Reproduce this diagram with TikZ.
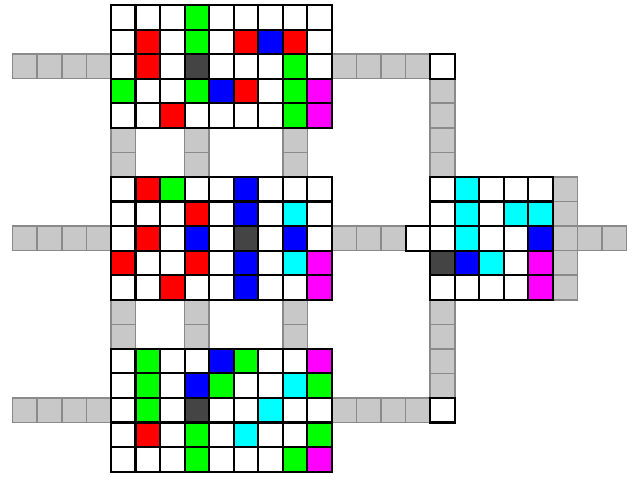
\documentclass[tikz,border=0pt]{standalone}
\definecolor{cW}{HTML}{FFFFFF}
\definecolor{cR}{HTML}{FF0000}
\definecolor{cG}{HTML}{00FF00}
\definecolor{cB}{HTML}{0000FF}
\definecolor{cC}{HTML}{00FFFF}
\definecolor{cM}{HTML}{FF00FF}
\definecolor{cD}{HTML}{444444}
\definecolor{wirefill}{HTML}{C8C8C8}
\definecolor{wireedge}{HTML}{8A8A8A}
\begin{document}
\begin{tikzpicture}[x=1cm, y=-1cm,
        cell/.style={draw=black, line width=2.4pt},
        wirecell/.style={fill=wirefill, draw=wireedge, line width=1.8pt}]
        \useasboundingbox (-0.517,-0.204) rectangle (25.379,19.34);

        % Dây nối (ô xám)
        \foreach \ry in {2,9,16}
            \foreach \cx in {0,...,3}
                \draw[wirecell] (\cx,\ry) rectangle ++(1,1);
        \foreach \cx in {13,...,16} {
            \draw[wirecell] (\cx,2) rectangle ++(1,1);
            \draw[wirecell] (\cx,16) rectangle ++(1,1);
        }
        \foreach \cx in {13,14,15}
            \draw[wirecell] (\cx,9) rectangle ++(1,1);
        \foreach \ry in {3,...,6,12,13,14,15}
            \draw[wirecell] (17,\ry) rectangle ++(1,1);
        \foreach \cx in {4,7,11}
            \foreach \ry in {5,6,12,13}
                \draw[wirecell] (\cx,\ry) rectangle ++(1,1);
        \foreach \ry in {7,...,11}
            \draw[wirecell] (22,\ry) rectangle ++(1,1);
        \draw[wirecell] (23,9) rectangle ++(1,1);
        \draw[wirecell] (24,9) rectangle ++(1,1);

        % Ô trắng ở chỗ rẽ
        \draw[cell, fill=white] (17,2) rectangle ++(1,1);
        \draw[cell, fill=white] (16,9) rectangle ++(1,1);
        \draw[cell, fill=white] (17,16) rectangle ++(1,1);

        % Khối trên
        \begin{scope}[shift={(4,0)}]
            \foreach \rw [count=\ri from 0] in {{W,W,W,G,W,W,W,W,W},{W,R,W,G,W,R,B,R,W},
                    {W,R,W,D,W,W,W,G,W},{G,W,W,G,B,R,W,G,M},{W,W,R,W,W,W,W,G,M}}
                \foreach \cl [count=\ci from 0] in \rw
                    \draw[cell, fill=c\cl] (\ci,\ri) rectangle ++(1,1);
        \end{scope}

        % Khối giữa
        \begin{scope}[shift={(4,7)}]
            \foreach \rw [count=\ri from 0] in {{W,R,G,W,W,B,W,W,W},{W,W,W,R,W,B,W,C,W},
                    {W,R,W,B,W,D,W,B,W},{R,W,W,R,W,B,W,C,M},{W,W,R,W,W,B,W,W,M}}
                \foreach \cl [count=\ci from 0] in \rw
                    \draw[cell, fill=c\cl] (\ci,\ri) rectangle ++(1,1);
        \end{scope}

        % Khối dưới
        \begin{scope}[shift={(4,14)}]
            \foreach \rw [count=\ri from 0] in {{W,G,W,W,B,G,W,W,M},{W,G,W,B,G,W,W,C,G},
                    {W,G,W,D,W,W,C,W,W},{W,R,W,G,W,C,W,W,G},{W,W,W,G,W,W,W,G,M}}
                \foreach \cl [count=\ci from 0] in \rw
                    \draw[cell, fill=c\cl] (\ci,\ri) rectangle ++(1,1);
        \end{scope}

        % Khối bên phải
        \begin{scope}[shift={(17,7)}]
            \foreach \rw [count=\ri from 0] in {{W,C,W,W,W},{W,C,W,C,C},
                    {W,C,W,W,B},{D,B,C,W,M},{W,W,W,W,M}}
                \foreach \cl [count=\ci from 0] in \rw
                    \draw[cell, fill=c\cl] (\ci,\ri) rectangle ++(1,1);
        \end{scope}
    \end{tikzpicture}
\end{document}
